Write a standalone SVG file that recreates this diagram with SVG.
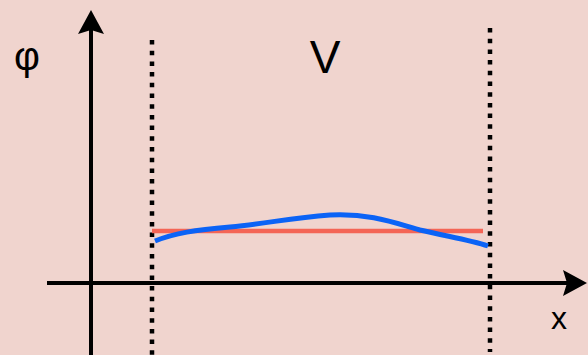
<svg xmlns="http://www.w3.org/2000/svg" width="588" height="355" viewBox="0 0 588 355">
<style>
.axis{stroke:#000;stroke-width:4;fill:none}
.dot{stroke:#000;stroke-width:4.5;stroke-dasharray:4.5 6.2;fill:none}
.lbl{font-family:"Liberation Sans",Arial,sans-serif;fill:#000;text-anchor:middle}
</style>
<rect width="588" height="355" fill="#f0d4ce"/>
<g id="connectors">
<line class="axis" x1="91" y1="355" x2="91" y2="28"/>
<polygon points="91,10 104,34 91,30 78,34" fill="#000"/>
<line class="axis" x1="47" y1="283" x2="570" y2="283"/>
<polygon points="587,283 563,296 567,283 563,270" fill="#000"/>
</g>
<g id="boundaries">
<line class="dot" x1="152" y1="40" x2="152" y2="355"/>
<line class="dot" x1="490" y1="28" x2="490" y2="352"/>
</g>
<g id="curves">
<line x1="152" y1="231" x2="483" y2="231" stroke="#f46556" stroke-width="4.5"/>
<path d="M155,241 C175,233 195,230 230,227 C270,223 290,218 330,215 C370,213 395,223 420,230 C450,237 470,240 488,246" fill="none" stroke="#0b63f6" stroke-width="5"/>
</g>
<g id="labels">
<text class="lbl" x="27" y="70" font-size="40">φ</text>
<text class="lbl" x="325" y="73" font-size="46">V</text>
<text class="lbl" x="559" y="329" font-size="32">x</text>
</g>
</svg>
